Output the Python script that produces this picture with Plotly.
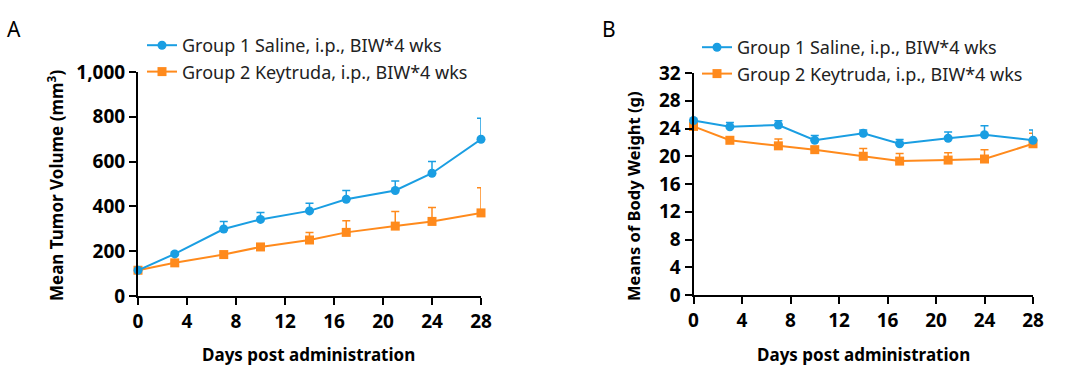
import plotly.graph_objects as go

days = [0, 3, 7, 10, 14, 17, 21, 24, 28]

tumor_g1 = [115, 188, 299, 342, 380, 432, 471, 548, 700]
tumor_g1_sem = [5, 8, 34, 31, 34, 39, 42, 52, 93]
tumor_g2 = [115, 148, 185, 219, 250, 284, 312, 333, 371]
tumor_g2_sem = [8, 8, 10, 12, 33, 52, 65, 62, 112]

bw_g1 = [25.15, 24.25, 24.5, 22.3, 23.3, 21.8, 22.6, 23.1, 22.3]
bw_g1_sem = [0.2, 0.6, 0.6, 0.7, 0.5, 0.6, 0.9, 1.3, 1.5]
bw_g2 = [24.3, 22.3, 21.5, 20.95, 20.0, 19.3, 19.45, 19.6, 21.8]
bw_g2_sem = [0.3, 0.4, 1.0, 0.4, 1.1, 1.1, 1.05, 1.35, 1.5]

names = ["Group 1 Saline, i.p., BIW*4 wks", "Group 2 Keytruda, i.p., BIW*4 wks"]
x_ticks = [0, 4, 8, 12, 16, 20, 24, 28]
tumor_ticks = [0, 200, 400, 600, 800, 1000]
bw_ticks = [0, 4, 8, 12, 16, 20, 24, 28, 32]

BLUE = "#1A9EE2"
ORANGE = "#FF8A1C"
FONT = "Noto Sans"

fig = go.Figure()


def add(x, y, err, color, symbol, name, xa, ya, legend, rank):
    fig.add_trace(go.Scatter(
        x=x, y=y, mode="lines+markers", name=name,
        line=dict(color=color, width=2),
        marker=dict(color=color, size=9, symbol=symbol),
        error_y=dict(type="data", array=err, arrayminus=[0] * len(err), symmetric=False,
                     color=color, thickness=1.5, width=4),
        xaxis=xa, yaxis=ya, legend=legend, legendrank=rank, cliponaxis=False,
    ))


add(days, tumor_g2, tumor_g2_sem, ORANGE, "square", names[1], "x", "y", "legend", 2)
add(days, tumor_g1, tumor_g1_sem, BLUE, "circle", names[0], "x", "y", "legend", 1)
add(days, bw_g2, bw_g2_sem, ORANGE, "square", names[1], "x2", "y2", "legend2", 2)
add(days, bw_g1, bw_g1_sem, BLUE, "circle", names[0], "x2", "y2", "legend2", 1)

W, H = 1080, 370
axis_common = dict(
    showline=True, linecolor="black", linewidth=2, ticks="outside", ticklen=7,
    tickwidth=2, tickcolor="black", showgrid=False, zeroline=False,
    tickfont=dict(family=FONT, size=19, color="black", weight="bold"), automargin=False,
)

fig.update_layout(
    width=W, height=H, margin=dict(l=0, r=0, t=0, b=0),
    plot_bgcolor="white", paper_bgcolor="white",
    font=dict(family=FONT, color="black"),
    xaxis=dict(domain=[138 / W, 481 / W], range=[0, 28], tickvals=x_ticks, anchor="y", **axis_common),
    yaxis=dict(domain=[1 - 296 / H, 1 - 72 / H], range=[0, 1000], tickvals=tumor_ticks,
               tickformat=",", anchor="x", **axis_common),
    xaxis2=dict(domain=[693.5 / W, 1033 / W], range=[0, 28], tickvals=x_ticks, anchor="y2", **axis_common),
    yaxis2=dict(domain=[1 - 295 / H, 1 - 73 / H], range=[0, 32], tickvals=bw_ticks, anchor="x2", **axis_common),
    legend=dict(x=142 / W, y=1 - 27 / H, xanchor="left", yanchor="top",
                font=dict(family=FONT, size=18, color="#222"), bgcolor="rgba(0,0,0,0)"),
    legend2=dict(x=697 / W, y=1 - 29 / H, xanchor="left", yanchor="top",
                 font=dict(family=FONT, size=18, color="#222"), bgcolor="rgba(0,0,0,0)"),
    showlegend=True,
)

ann_font_b = dict(family=FONT, size=17, color="black", weight="bold")
annotations = [
    dict(text="A", x=5 / W, y=1 - 29 / H, xanchor="left", yanchor="middle", showarrow=False,
         font=dict(family=FONT, size=21, color="black")),
    dict(text="B", x=600 / W, y=1 - 29 / H, xanchor="left", yanchor="middle", showarrow=False,
         font=dict(family=FONT, size=21, color="black")),
    dict(text="Days post administration", x=308 / W, y=1 - 354 / H, xanchor="center", yanchor="middle",
         showarrow=False, font=ann_font_b),
    dict(text="Days post administration", x=863 / W, y=1 - 354 / H, xanchor="center", yanchor="middle",
         showarrow=False, font=ann_font_b),
    dict(text="Mean Tumor Volume (mm<sup>3</sup>)", x=55 / W, y=1 - 186 / H, xanchor="center", yanchor="middle",
         textangle=-90, showarrow=False, font=ann_font_b),
    dict(text="Means of Body Weight (g)", x=633 / W, y=1 - 196 / H, xanchor="center", yanchor="middle",
         textangle=-90, showarrow=False, font=dict(family=FONT, size=16.5, color="black", weight="bold")),
]
for a in annotations:
    a["xref"] = "paper"
    a["yref"] = "paper"
fig.update_layout(annotations=annotations)

fig.write_html("out.html", config={"displayModeBar": False},
               post_script="document.body.style.margin='0';document.body.style.overflow='hidden';")
